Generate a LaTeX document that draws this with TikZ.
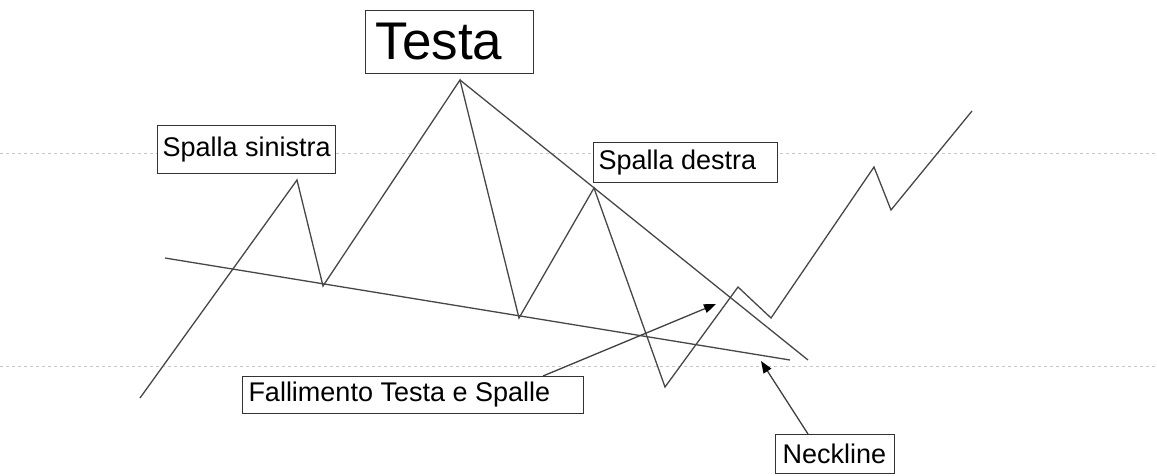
\documentclass[tikz,border=0pt]{standalone}
\usepackage{fontspec}
\setmainfont{Liberation Sans}
\usetikzlibrary{arrows.meta}
\newcommand{\lft}[2]{\makebox[#1][l]{#2}}
\begin{document}
\begin{tikzpicture}[x=1pt,y=-1pt,
 price/.style={draw=black!72, line width=1.3pt, line join=miter},
 guide/.style={draw=black!22, line width=1pt, dash pattern=on 3pt off 3pt},
 lbl/.style={draw=black!80, fill=white, line width=1pt, anchor=north west, font=\fontsize{27}{30}\selectfont, inner ysep=0pt},
 pointer/.style={draw=black!75, line width=1.3pt, -{Triangle[length=12pt,width=9pt,fill=black,color=black]}}]
\useasboundingbox[fill=white] (0,0) rectangle (1157,475);
% guide lines
\coordinate (gTL) at (0,153); \coordinate (gTR) at (1157,153);
\coordinate (gBL) at (0,366); \coordinate (gBR) at (1157,366);
\draw[guide] (gTL) -- (gTR);
\draw[guide] (gBL) -- (gBR);
% price path points
\coordinate (p0) at (140,398);
\coordinate (p1) at (297,180);
\coordinate (p2) at (323,286);
\coordinate (p3) at (460,80);
\coordinate (p4) at (519,318);
\coordinate (p5) at (594,188);
\coordinate (p6) at (665,387);
\coordinate (p7) at (738,287);
\coordinate (p8) at (771,318);
\coordinate (p9) at (874,167);
\coordinate (p10) at (891,210);
\coordinate (p11) at (972,111);
\draw[price] (p0) -- (p1) -- (p2) -- (p3) -- (p4) -- (p5) -- (p6) -- (p7) -- (p8) -- (p9) -- (p10) -- (p11);
% neckline and resistance line
\coordinate (nA) at (165,258); \coordinate (nB) at (790,360);
\draw[price] (nA) -- (nB);
\coordinate (rB) at (808,360);
\draw[price] (p3) -- (rB);
% labels
\node[lbl, font=\fontsize{53}{60}\selectfont, minimum height=63pt, inner xsep=10pt] (testa) at (365,10) {\lft{148pt}{Testa}};
\node[lbl, minimum height=48pt, inner xsep=5pt] (ss) at (157,125) {\lft{168pt}{Spalla sinistra}};
\node[lbl, minimum height=40pt, inner xsep=5pt] (sd) at (593,142) {\lft{174pt}{Spalla destra}};
\node[lbl, minimum height=37pt, inner xsep=6pt] (fall) at (242,376) {\lft{329pt}{Fallimento Testa e Spalle}};
\node[lbl, minimum height=39pt, inner xsep=7pt] (neck) at (775,434) {\lft{105pt}{Neckline}};
% pointers
\coordinate (fTip) at (716,304);
\coordinate (nTip) at (761,361);
\draw[pointer] (fall.north west -| 543,0) -- (fTip);
\draw[pointer] (neck.north west -| 808,0) -- (nTip);
\end{tikzpicture}
\end{document}
